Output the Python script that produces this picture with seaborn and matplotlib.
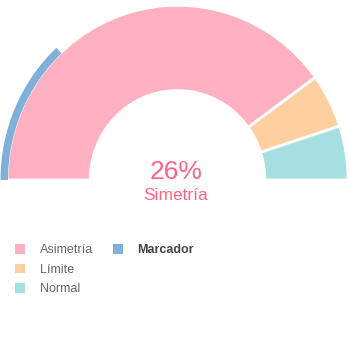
import matplotlib
matplotlib.use("Agg")
import matplotlib.pyplot as plt
import seaborn as sns
from matplotlib.patches import Patch

sns.set_theme(style="white")
plt.rcParams['font.family'] = ['Liberation Sans', 'DejaVu Sans']

categories = ["Asimetría", "Límite", "Normal"]
values = [80, 10, 10]
colors = ["#FFB1C1", "#FFCF9F", "#A5DFDF"]
marker_label = "Marcador"
marker_value = 26
marker_color = "#7EB0D9"
center_value = "26%"
center_label = "Simetría"

W, H = 350, 360
S = 1.025  # slight vertical stretch of the gauge
fig = plt.figure(figsize=(W / 100, H / 100), dpi=100)
ax = fig.add_axes([0, 0, 1, 1])


def py(y_px):
    return (H - y_px) / S


cx, cy = 177.5, py(180)
r_out, r_in = 170.5, 87.3
total = sum(values)

wedges, _ = ax.pie(values + [total], colors=colors + ["white"], center=(cx, cy),
                   radius=r_out, startangle=180, counterclock=False,
                   wedgeprops=dict(width=r_out - r_in, edgecolor="white", linewidth=2),
                   frame=True)
wedges[-1].set_visible(False)

mw, _ = ax.pie([marker_value, 100 - marker_value, 100], colors=[marker_color, "white", "white"],
               center=(cx, cy), radius=r_out + 6.5, startangle=180, counterclock=False,
               wedgeprops=dict(width=7.5, linewidth=0), frame=True)
mw[1].set_visible(False)
mw[2].set_visible(False)

ax.set_aspect('auto')
ax.set_xlim(0, W)
ax.set_ylim(0, H / S)
ax.axis('off')

ax.text(cx - 1.5, py(172), center_value, ha='center', va='center', fontsize=19, color="#FF6384")
ax.text(cx - 1.5, py(195), center_label, ha='center', va='center', fontsize=12.5, color="#FF6384")

handles = [Patch(facecolor=c, edgecolor='none') for c in colors]
handles.append(Patch(facecolor=marker_color, edgecolor='none'))
handles += [Patch(facecolor='none', edgecolor='none'), Patch(facecolor='none', edgecolor='none')]
labels = categories + [marker_label, "", ""]
leg = fig.legend(handles, labels, loc='upper left', bbox_to_anchor=(15 / W, 1 - 244 / H),
                 ncol=2, frameon=False, fontsize=9, handlelength=0.8, handleheight=0.8,
                 handletextpad=1.2, columnspacing=1.55, labelspacing=0.6, borderpad=0,
                 borderaxespad=0)
for t in leg.get_texts():
    t.set_color("#666666")
leg.get_texts()[3].set_fontweight('bold')
leg.get_texts()[3].set_color("#444444")

fig.savefig("out.png", dpi=100)
